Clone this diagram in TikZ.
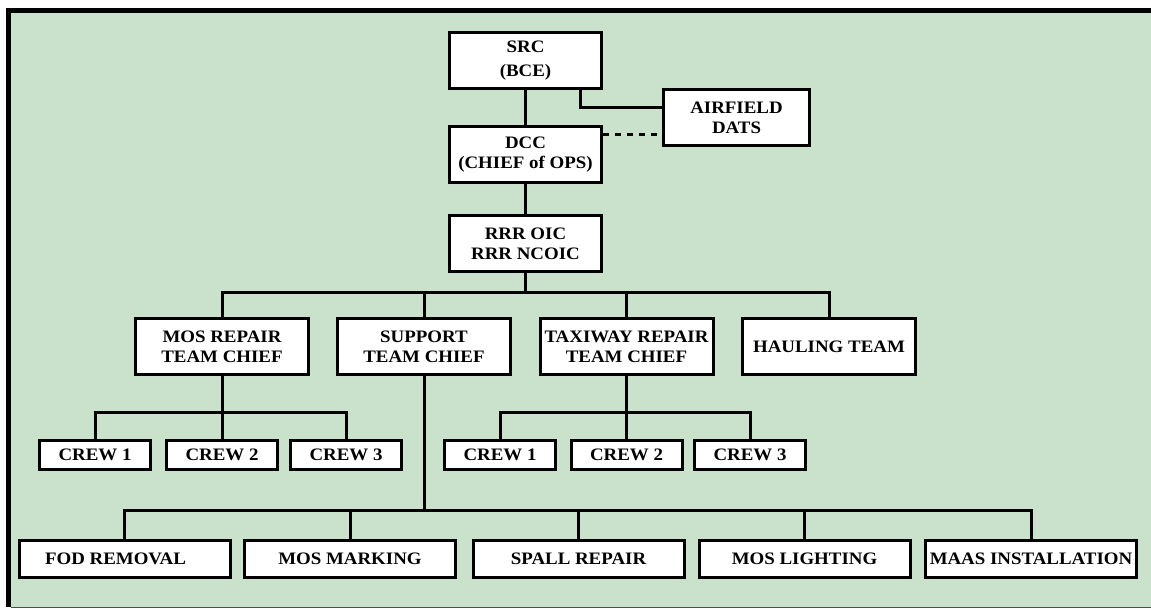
\documentclass[tikz,border=0pt]{standalone}
\usepackage{fontspec}
\setmainfont{Liberation Serif}[FakeStretch=1.08]
\definecolor{bggreen}{RGB}{202,225,203}
\begin{document}
\begin{tikzpicture}[x=1pt,y=-1pt,
  box/.style={draw=black, line width=3pt, fill=white, inner sep=0pt, align=center,
    font=\fontsize{17.5}{20}\selectfont\bfseries},
  big/.style={box, minimum width=152pt, minimum height=56pt},
  mid/.style={box, minimum width=173pt, minimum height=56pt},
  crew/.style={box, minimum width=111pt, minimum height=29pt},
  task/.style={box, minimum width=211pt, minimum height=37pt},
  conn/.style={line width=3pt, line cap=rect},
  dots/.style={line width=3pt, dash pattern=on 6pt off 6pt}]
\useasboundingbox (0,0) rectangle (1151,609);
\fill[white] (0,0) rectangle (1151,609);
\fill[bggreen] (11,13) rectangle (1151,607);
\fill[black] (6,8) rectangle (1151,13);
\fill[black] (6,8) rectangle (11,607);
\draw[line width=1pt, black!70] (11,607.5) -- (1151,607.5);

% nodes
\node[big] (src) at (525.5,60.5) {SRC\\[4pt](BCE)};
\node[big] (dcc) at (525.5,155) {DCC\\(CHIEF of OPS)};
\node[big] (rrr) at (525.5,243.5) {RRR OIC\\RRR NCOIC};
\node[box, minimum width=146pt, minimum height=56pt] (air) at (736.5,117.5) {AIRFIELD\\DATS};

\node[mid] (mos) at (222,346.5) {MOS REPAIR\\TEAM CHIEF};
\node[mid] (sup) at (424,346.5) {SUPPORT\\TEAM CHIEF};
\node[mid] (tax) at (626.5,346.5) {TAXIWAY REPAIR\\TEAM CHIEF};
\node[mid] (haul) at (829,346.5) {HAULING TEAM};

\node[crew] (mc1) at (95,455) {CREW 1};
\node[crew] (mc2) at (222,455) {CREW 2};
\node[crew] (mc3) at (346,455) {CREW 3};
\node[crew] (tc1) at (500,455) {CREW 1};
\node[crew] (tc2) at (626.5,455) {CREW 2};
\node[crew] (tc3) at (750,455) {CREW 3};

\node[task] (fod) at (124.5,559) {FOD REMOVAL\hspace*{18pt}};
\node[task] (mark) at (350,559) {MOS MARKING};
\node[task] (spall) at (578.5,559) {SPALL REPAIR};
\node[task] (light) at (804.5,559) {MOS LIGHTING};
\node[task] (maas) at (1031,559) {MAAS INSTALLATION};

% connectors
\draw[conn] (src.south) -- (dcc.north);
\draw[conn] ([xshift=54.5pt]src.south) |- ([yshift=9.5pt]air.west);
\draw[dots] ([yshift=20pt]dcc.east) -- ([yshift=20pt]dcc.east -| air.west);
\draw[conn] (dcc.south) -- (rrr.north);

\coordinate (bus1) at (525.5,293);
\draw[conn] (rrr.south) -- (bus1);
\draw[conn] (mos.north) |- (bus1) -| (haul.north);
\draw[conn] (sup.north) -- (sup.north |- bus1);
\draw[conn] (tax.north) -- (tax.north |- bus1);

\coordinate (bus2) at (222,412);
\draw[conn] (mos.south) -- (mc2.north);
\draw[conn] (mc1.north) |- (bus2) -| (mc3.north);

\coordinate (bus3) at (626.5,412);
\draw[conn] (tax.south) -- (tc2.north);
\draw[conn] (tc1.north) |- (bus3) -| (tc3.north);

\coordinate (bus4) at (424,510);
\draw[conn] (sup.south) -- (bus4);
\draw[conn] (fod.north) |- (bus4) -| (maas.north);
\draw[conn] (mark.north) -- (mark.north |- bus4);
\draw[conn] (spall.north) -- (spall.north |- bus4);
\draw[conn] (light.north) -- (light.north |- bus4);
\end{tikzpicture}
\end{document}
